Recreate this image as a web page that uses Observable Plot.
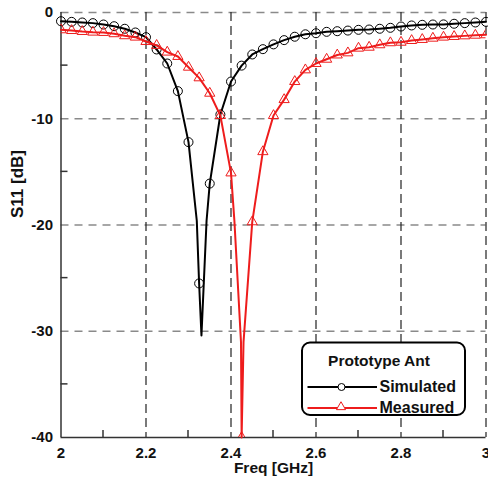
<!DOCTYPE html>
<html><head><meta charset="utf-8">
<script src="https://cdn.jsdelivr.net/npm/d3@7"></script>
<script src="https://cdn.jsdelivr.net/npm/@observablehq/plot@0.6"></script>
<style>
body{margin:0;background:#fff;}
#chart{position:relative;width:488px;height:482px;}
</style></head><body><div id="chart"></div>
<script>
// Frequencies (GHz) where markers are drawn
const freq = [2.000,2.025,2.050,2.075,2.100,2.125,2.150,2.175,2.200,2.225,2.250,2.275,2.300,2.325,2.350,2.375,2.400,2.425,2.450,2.475,2.500,2.525,2.550,2.575,2.600,2.625,2.650,2.675,2.700,2.725,2.750,2.775,2.800,2.825,2.850,2.875,2.900,2.925,2.950,2.975,3.000];
// Simulated S11 (dB)
const simS11 = [-0.82,-0.88,-0.94,-1.00,-1.13,-1.29,-1.53,-1.88,-2.32,-3.48,-4.80,-7.40,-12.2,-25.5,-16.1,-9.6,-6.5,-5.0,-3.95,-3.45,-3.0,-2.6,-2.28,-2.05,-1.95,-1.82,-1.76,-1.70,-1.63,-1.60,-1.53,-1.44,-1.32,-1.22,-1.16,-1.13,-1.12,-1.06,-1.00,-0.94,-0.88];
// Measured S11 (dB)
const measS11 = [-1.63,-1.70,-1.79,-1.85,-1.88,-2.00,-2.19,-2.32,-2.73,-3.1,-3.73,-4.14,-5.15,-6.15,-7.6,-9.7,-15.1,-40,-19.7,-13.1,-9.7,-8.2,-6.5,-5.4,-4.8,-4.4,-4.0,-3.8,-3.36,-3.27,-3.04,-2.85,-2.8,-2.64,-2.54,-2.42,-2.32,-2.26,-2.20,-2.14,-2.10];
// Extra curve points near the resonances (no markers)
const simDipFreq = [2.3195, 2.3305, 2.3425];
const simDipS11 = [-19.6, -30.4, -19.6];
const measDipFreq = [2.408, 2.4235, 2.4295];
const measDipS11 = [-19.6, -31, -31];

const xMajor = [2, 2.2, 2.4, 2.6, 2.8, 3];
const xGrid = [2.2, 2.4, 2.6, 2.8, 3];
const xMinor = [2.1, 2.3, 2.5, 2.7, 2.9];
const yMajor = [-40, -30, -20, -10, 0];
const yGrid = [-30, -20, -10, 0];
const yMinor = [-35, -25, -15, -5];

const seriesNames = ["Simulated", "Measured"];
const seriesColors = ["#000000", "#ee1c1c"];
const legendTitle = "Prototype Ant";

const simMarkers = freq.map((f, i) => ({f, v: simS11[i]}));
const measMarkers = freq.map((f, i) => ({f, v: measS11[i]}));
const simLine = simMarkers.concat(simDipFreq.map((f, i) => ({f, v: simDipS11[i]}))).sort((a, b) => a.f - b.f);
const measLine = measMarkers.concat(measDipFreq.map((f, i) => ({f, v: measDipS11[i]}))).sort((a, b) => a.f - b.f);

const FONT = "'Liberation Sans', Arial, sans-serif";
const fmt = d => String(d);
const W = 488, H = 482, ML = 60.5, MR = 2.5, MT = 12, MB = 45;
const TICK = 7;

const plot = Plot.plot({
  width: W, height: H,
  marginLeft: ML, marginRight: MR, marginTop: MT, marginBottom: MB,
  style: {fontFamily: FONT, fontSize: "15px", fontWeight: "bold", color: "#111", background: "white"},
  x: {domain: [2, 3]},
  y: {domain: [-40, 0]},
  marks: [
    Plot.gridY(yGrid, {stroke: "#8a8a8a", strokeOpacity: 1, strokeWidth: 1.5, strokeDasharray: "8,6"}),
    Plot.gridX(xGrid, {stroke: "#222", strokeOpacity: 1, strokeWidth: 1.2, strokeDasharray: "9,5"}),
    Plot.ruleX([2], {stroke: "#333", strokeWidth: 1.5}),
    Plot.ruleY([-40], {stroke: "#333", strokeWidth: 1.5}),
    Plot.axisX(xMajor, {tickSize: 0, tickPadding: 10, tickFormat: fmt, label: null, fontSize: 15, fontFamily: FONT, fontWeight: "bold", fill: "#111"}),
    Plot.axisY(yMajor, {tickSize: 0, tickPadding: 8, tickFormat: fmt, label: null, fontSize: 15, fontFamily: FONT, fontWeight: "bold", fill: "#111"}),
    Plot.text(["Freq [GHz]"], {frameAnchor: "bottom", dy: 35, fontSize: 15.5, fontFamily: FONT, fontWeight: "bold", fill: "#111"}),
    Plot.text(["S11 [dB]"], {frameAnchor: "left", rotate: -90, dx: -43, dy: -7, fontSize: 17, fontFamily: FONT, fontWeight: "bold", fill: "#111"}),
    Plot.line(simLine, {x: "f", y: "v", stroke: seriesColors[0], strokeWidth: 2}),
    Plot.dot(simMarkers, {x: "f", y: "v", r: 4.5, stroke: seriesColors[0], fill: "none", strokeWidth: 1}),
    Plot.line(measLine, {x: "f", y: "v", stroke: seriesColors[1], strokeWidth: 2}),
    Plot.dot(measMarkers, {x: "f", y: "v", r: 3.8, symbol: "triangle", stroke: seriesColors[1], fill: "none", strokeWidth: 1, clip: true})
  ]
});
document.getElementById("chart").appendChild(plot);

const svg = d3.select(plot);
// Inward minor ticks, positioned through Plot's own scales
const xs = plot.scale("x"), ys = plot.scale("y");
const yBottom = ys.apply(yMajor[0]), xLeft = xs.apply(xMajor[0]);
const tg = svg.append("g").attr("stroke", "#333").attr("stroke-width", 1.5);
xMinor.forEach(v => {
  const x = xs.apply(v);
  tg.append("line").attr("x1", x).attr("x2", x).attr("y1", yBottom).attr("y2", yBottom - TICK);
});
yMinor.forEach(v => {
  const y = ys.apply(v);
  tg.append("line").attr("x1", xLeft).attr("x2", xLeft + TICK).attr("y1", y).attr("y2", y);
});

// Legend box inside the plot area
const lg = svg.append("g").attr("font-family", FONT).attr("font-weight", "bold").attr("text-anchor", "start");
lg.append("rect").attr("x", 302).attr("y", 342.5).attr("width", 163).attr("height", 72.5)
  .attr("rx", 8).attr("fill", "white").attr("stroke", "#000").attr("stroke-width", 2);
lg.append("text").attr("x", 379).attr("y", 366).attr("text-anchor", "middle").attr("font-size", 15.5).attr("fill", "#111").text(legendTitle);
const rowsY = [387, 408];
seriesNames.forEach((name, i) => {
  const y = rowsY[i];
  lg.append("line").attr("x1", 307.5).attr("x2", 377).attr("y1", y).attr("y2", y).attr("stroke", seriesColors[i]).attr("stroke-width", 2);
  if (i === 0) {
    lg.append("circle").attr("cx", 341.5).attr("cy", y).attr("r", 3.5).attr("fill", "white").attr("stroke", seriesColors[i]).attr("stroke-width", 1);
  } else {
    lg.append("path").attr("transform", `translate(341,${y - 1})`).attr("d", d3.symbol(d3.symbolTriangle, 36)()).attr("fill", "white").attr("stroke", seriesColors[i]).attr("stroke-width", 1);
  }
  lg.append("text").attr("x", 379.5).attr("y", y + 5).attr("text-anchor", "start").attr("font-size", 16).attr("fill", "#111").text(name);
});
</script></body></html>
